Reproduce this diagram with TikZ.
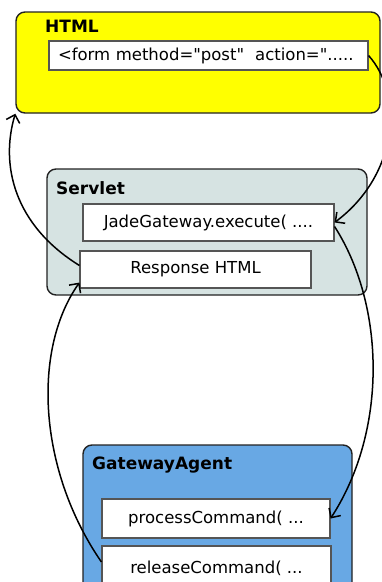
\documentclass[tikz,border=0pt]{standalone}
\usepackage{fontspec}
\setmainfont{DejaVu Sans}[Ligatures=TeXOff]
\usetikzlibrary{arrows.meta}
\definecolor{htmlyellow}{HTML}{FFFF00}
\definecolor{servletfill}{HTML}{D6E3E2}
\definecolor{agentblue}{HTML}{68A8E4}
\definecolor{boxline}{HTML}{222222}
\definecolor{innerline}{HTML}{555555}
\tikzset{
  container/.style={draw=boxline, line width=1.4pt, rounded corners=9pt, inner sep=0pt},
  inner/.style={draw=innerline, line width=1.1pt, fill=white, inner sep=0pt,
    font=\fontsize{16.5}{18}\selectfont},
  title/.style={anchor=west, inner sep=0pt, font=\fontsize{17}{19}\selectfont\bfseries},
  flow/.style={line width=1.5pt, -{Straight Barb[length=7pt,width=14pt,line width=1.5pt]}}
}
\begin{document}
\begin{tikzpicture}[x=1pt,y=-1pt]
\useasboundingbox (0,0) rectangle (382,582);
\clip (0,0) rectangle (382,582);
% containers
\node[container, fill=htmlyellow, minimum width=364pt, minimum height=101pt] (html) at (198,62.5) {};
\node[title] (htmlt) at (45,26) {HTML};
\node[inner, minimum width=319pt, minimum height=29pt, text width=301pt, align=left] (form) at (208.5,55.5) {<form method="post"\ \ action=".....};

\node[container, fill=servletfill, minimum width=320pt, minimum height=126pt] (servlet) at (207,232) {};
\node[title] (servlett) at (56,188) {Servlet};
\node[inner, minimum width=251pt, minimum height=37pt] (jade) at (208.5,222.5) {JadeGateway.execute( ....};
\node[inner, minimum width=231pt, minimum height=37pt] (resp) at (195.5,269.5) {Response HTML};

\node[container, fill=agentblue, minimum width=269pt, minimum height=155pt] (agent) at (217.5,522.5) {};
\node[title] (agentt) at (92,465) {GatewayAgent};
\node[inner, minimum width=228pt, minimum height=39pt] (proc) at (216,518.5) {processCommand( ...};
\node[inner, minimum width=229pt, minimum height=54pt, text depth=0pt] (rel) at (216.5,573) {\raisebox{11pt}{releaseCommand( ...}};

% connectors
\draw[flow] (form.east) .. controls (404,95) and (398,175) .. (jade.east);
\draw[flow] ([yshift=-4pt]jade.east) .. controls (385,305) and (388,430) .. (proc.east);
\draw[flow] ([yshift=11pt]rel.west) .. controls (38,470) and (32,350) .. ([yshift=6pt]resp.south west);
\draw[flow] ([yshift=4pt]resp.west) .. controls (14,225) and (0,165) .. (html.south west);
\end{tikzpicture}
\end{document}
